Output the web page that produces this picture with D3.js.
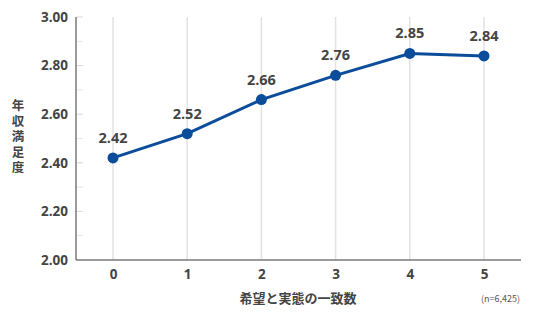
<!DOCTYPE html>
<html><head><meta charset="utf-8">
<script src="https://cdn.jsdelivr.net/npm/d3@7"></script>
<style>body{margin:0;background:#fff}svg{display:block;font-family:"Noto Sans CJK JP","Noto Sans",sans-serif}</style>
</head><body>
<svg id="c" width="536" height="312"></svg>
<script>
const categories = ["0","1","2","3","4","5"];
const values = [2.42, 2.52, 2.66, 2.76, 2.85, 2.84];
const yTicks = [2.00, 2.20, 2.40, 2.60, 2.80, 3.00];
const yMinorTicks = [2.1, 2.3, 2.5, 2.7, 2.9];
const xTitle = "希望と実態の一致数";
const yTitle = "年収満足度";
const note = "(n=6,425)";

const svg = d3.select("#c");
const L = 76, R = 521, T = 17, B = 260;
const x = d3.scalePoint().domain(categories).range([113, 484]);
const y = d3.scaleLinear().domain([2, 3]).range([B, T]);

// vertical grid
svg.append("g").selectAll("line").data(categories).join("line")
  .attr("x1", d => x(d)).attr("x2", d => x(d)).attr("y1", T).attr("y2", B)
  .attr("stroke", "#e2e2e2").attr("stroke-width", 1.5);

// minor + major ticks (right of axis)
svg.append("g").selectAll("line").data(yMinorTicks).join("line")
  .attr("x1", L).attr("x2", L + 7).attr("y1", d => y(d)).attr("y2", d => y(d))
  .attr("stroke", "#e6e6e6").attr("stroke-width", 1);
svg.append("g").selectAll("line").data(yTicks.slice(1)).join("line")
  .attr("x1", L).attr("x2", L + 7).attr("y1", d => y(d)).attr("y2", d => y(d))
  .attr("stroke", "#d8d8d8").attr("stroke-width", 1);

// y axis
const yAxis = d3.axisLeft(y).tickValues(yTicks).tickFormat(d3.format(".2f")).tickSize(0).tickPadding(8);
const gy = svg.append("g").attr("transform", `translate(${L},0)`).call(yAxis);
gy.select(".domain").remove();
gy.selectAll("text").attr("font-size", 13.5).attr("font-weight", 700).attr("fill", "#444")
  .attr("font-family", "'Open Sans','Noto Sans',sans-serif");
svg.append("line").attr("x1", L).attr("x2", L).attr("y1", T).attr("y2", B)
  .attr("stroke", "#7a7a7a").attr("stroke-width", 1.5);

// x axis
const xAxis = d3.axisBottom(x).tickSize(0).tickPadding(9);
const gx = svg.append("g").attr("transform", `translate(0,${B})`).call(xAxis);
gx.select(".domain").remove();
gx.selectAll("text").attr("font-size", 13.5).attr("font-weight", 700).attr("fill", "#444")
  .attr("font-family", "'Open Sans','Noto Sans',sans-serif");
svg.append("line").attr("x1", L).attr("x2", R).attr("y1", B).attr("y2", B)
  .attr("stroke", "#7a7a7a").attr("stroke-width", 1.5);

// line
const line = d3.line().x((d, i) => x(categories[i])).y(d => y(d));
svg.append("path").datum(values).attr("d", line)
  .attr("fill", "none").attr("stroke", "#0b4d9b").attr("stroke-width", 3);
svg.append("g").selectAll("circle").data(values).join("circle")
  .attr("cx", (d, i) => x(categories[i])).attr("cy", d => y(d)).attr("r", 5.5)
  .attr("fill", "#0b4d9b");
svg.append("g").selectAll("text").data(values).join("text")
  .attr("x", (d, i) => x(categories[i])).attr("y", d => y(d) - 15)
  .attr("text-anchor", "middle").attr("font-size", 14.5).attr("font-weight", 700)
  .attr("fill", "#444").attr("font-family", "'Open Sans','Noto Sans',sans-serif")
  .text(d => d.toFixed(2));

// titles
svg.append("text").attr("x", 298).attr("y", 303).attr("text-anchor", "middle")
  .attr("font-size", 13).attr("font-weight", 700).attr("fill", "#444").text(xTitle);
svg.append("text").attr("x", 18).attr("y", 138).attr("text-anchor", "middle")
  .attr("writing-mode", "vertical-rl").style("text-orientation", "upright")
  .attr("letter-spacing", 3)
  .attr("font-size", 12.5).attr("font-weight", 700).attr("fill", "#444").text(yTitle);
svg.append("text").attr("x", 520).attr("y", 302).attr("text-anchor", "end")
  .attr("font-size", 9).attr("fill", "#555").text(note);
</script>
</body></html>
